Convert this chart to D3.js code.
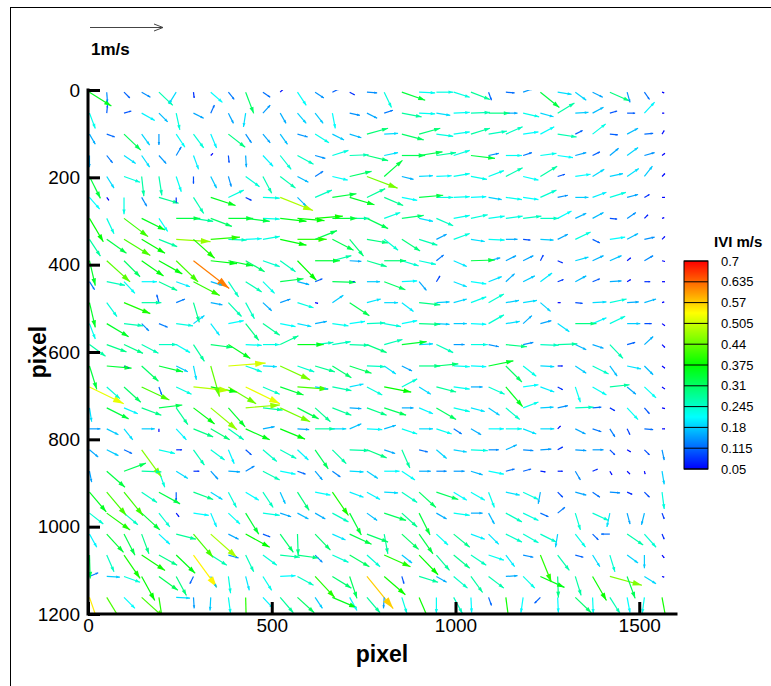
<!DOCTYPE html>
<html><head><meta charset="utf-8">
<script src="https://cdn.jsdelivr.net/npm/d3@7"></script>
<style>body{margin:0;background:#fff}svg{display:block}text{font-family:Arial,"Liberation Sans",sans-serif}</style>
</head><body><svg id="c" width="771" height="686"></svg>
<script>
// grid positions (image pixels)
const gridX = [4,51,98,146,193,240,287,334,382,429,476,523,570,618,665,712,759,806,854,901,948,995,1042,1090,1137,1184,1231,1278,1326,1373,1420,1467,1514,1562];
const gridY = [5,53,101,150,198,246,294,342,391,439,487,535,583,632,680,728,776,824,873,921,969,1017,1065,1114,1162];
// velocity components, m/s (v positive downward in image)
const U = [
[.30,.01,.08,.12,.19,-.10,.01,.16,.08,.11,.10,.04,.12,.12,.10,.07,.14,.10,.32,.22,.23,.22,.26,.04,.12,.14,.26,.19,.15,.14,.27,.04,.07,.03],
[.08,.01,.10,.18,.12,.05,.14,.05,.07,-.03,.10,.08,.12,.11,.04,.14,.14,.12,.27,.22,.19,.22,.26,.29,.16,.22,.18,.23,.18,.15,.10,.11,.14,.03],
[.08,.11,.23,.11,0,.12,.14,.08,.23,.08,.10,.10,.14,.19,.16,.16,.29,.19,.30,.29,.23,.22,.26,.25,.23,.21,.19,.26,.10,.18,.11,.15,.12,.03],
[0,.08,.16,.11,.10,.07,.07,.03,.01,.01,.14,.15,.22,.14,.22,.26,.29,.19,.32,.32,.27,.22,.33,.14,.22,.12,.22,.21,.15,.10,.12,.15,.14,.04],
[.15,.10,.22,.03,.04,.07,0,.08,.04,.19,.12,.21,.15,.11,.21,.30,.42,.25,.16,.19,.21,.22,.22,.21,.23,.21,.23,.10,.21,.16,.18,.16,.11,.04],
[.14,.03,0,.07,.27,0,.14,.34,.21,.08,.23,.45,.12,.23,.33,.34,.25,.26,.21,.33,.23,.22,.21,.18,.22,.21,.22,.14,.18,.19,.22,.15,.07,.04],
[.19,.10,.33,.32,.12,.33,.27,.29,.34,.33,.23,.36,.37,.38,.34,.27,.29,.22,.30,.19,.23,.22,.23,.22,.23,.25,.25,.19,.15,.15,.10,.12,.05,.03],
[.15,.27,.36,.32,.25,.47,.29,.40,.25,.22,.23,.36,.40,.30,.29,.19,.29,.19,.25,.25,.14,.22,.19,.22,.16,.10,.18,.14,.21,.10,.21,.15,.14,.04],
[.08,.32,.22,.30,.32,.30,.49,.36,.34,.26,.23,.21,.26,.34,.26,.16,.27,.30,.23,.23,.10,.18,.33,.16,.14,.14,.04,.07,.18,.15,.16,.05,.12,.04],
[.07,.25,.15,.21,.25,.19,.36,.16,.14,.22,.16,.32,.16,.10,.32,.07,.18,.29,.21,.10,.05,.18,.21,.18,.12,.16,.16,.08,.15,.10,.16,.05,.08,.04],
[.08,.14,.36,.27,-.03,.12,.08,.16,.18,.12,.12,.14,.22,.04,.15,.27,.19,.19,.16,.29,.18,.18,.21,.21,.18,.19,.14,.04,.10,.19,.23,.16,.16,.03],
[.08,.30,.26,.10,.12,.23,.15,.12,.21,.18,.23,.21,.19,.16,.22,.21,.25,.23,.21,.29,.18,.18,.21,.21,.19,.12,.15,.16,.29,.19,.21,.18,.10,.04],
[.22,.27,.26,.23,.25,.19,.15,.30,.30,.22,.23,.25,.36,.25,.25,.27,.27,.25,.34,.19,.23,.15,.23,.14,.29,.14,.25,.27,.15,.15,.18,.11,.12,.04],
[.10,.34,.07,.23,.33,.16,.04,.12,.51,.22,.19,.41,.23,.27,.26,.30,.25,.16,.14,.29,.30,.22,.21,.34,.22,.18,.19,.07,.15,.22,.10,.19,.12,.04],
[.47,.18,.23,.38,.04,.21,.49,.36,.38,.47,.23,.32,.42,.18,.26,.19,.21,.37,.21,.16,.27,.22,.16,.22,.23,.21,.19,.07,.07,.19,.27,.12,.16,.04],
[.03,.30,.19,.27,.32,.16,.29,.36,.23,.47,.27,.41,.29,.21,.26,.16,.27,.30,.16,.19,.27,.22,.19,.15,.19,.21,.18,.14,.25,.12,.07,.15,.07,.04],
[.15,.16,.12,.18,0,.14,.27,.26,.21,.33,.16,.34,.16,.27,.19,.16,.21,.16,.21,.19,.21,.11,.14,.21,.22,.18,.19,.04,.14,.12,.07,.04,.12,.04],
[.12,.16,.11,.27,.22,.08,.15,.19,.08,.08,.19,.22,.15,.18,.19,.27,.27,.15,.11,.12,.14,.18,.23,.14,.15,.14,.15,.07,.15,.15,.07,.05,.07,.03],
[.03,.25,.30,.27,.08,.16,.08,.10,.16,.12,.23,.21,.11,.10,.11,.19,.15,.21,.18,.16,.14,.15,.16,.21,.12,.11,.07,.07,.07,.07,.03,.04,.01,.03],
[.23,.27,.26,.21,.29,0,.27,.16,.11,.18,.14,.07,.16,.21,.22,.19,.18,.19,.21,.23,.30,.18,.19,.08,.19,.21,-.03,.07,.15,.10,.14,.07,.07,.03],
[.19,.32,.19,.25,.15,.04,.21,.08,.16,.18,.23,.15,.15,.14,.22,.16,.14,.30,.21,.15,.14,.22,.16,.08,.22,.21,.11,.10,.07,.22,-.04,.04,-.04,.03],
[.10,.23,.15,.10,.15,.27,.27,.36,.14,.33,.10,.18,.01,.21,.18,.30,.29,.05,.23,.19,.16,.22,.19,.14,.22,.21,.22,-.03,.14,.08,-.12,.22,.16,.03],
[.01,.10,.22,.32,.25,.26,.32,.22,.14,.11,.19,.27,.29,.10,.22,.27,.18,.36,.14,.26,.18,.22,.21,.21,.12,.14,.15,.16,.11,.10,.07,.15,0,.03],
[.12,.18,.22,.18,.26,.14,-.05,.08,.03,.05,.12,.21,.22,.27,.26,.10,.36,.29,.03,.26,.14,.19,.16,.21,.16,.16,.33,.01,.08,.19,.44,.11,.16,.03],
[.18,.22,.15,.31,.06,.19,.01,-.01,.03,.01,.14,.18,.23,.10,.33,.10,.18,-.01,.07,.15,0,.12,.01,.04,.05,-.03,-.08,.01,.22,.01,.14,.04,-.03,.07]
];
const V = [
[.19,.14,.08,.07,.18,.16,.08,.14,.10,.29,.07,-.04,.18,.08,-.05,.04,.01,.21,.11,.01,0,.07,.10,.11,.01,-.05,.21,.03,.11,.07,.12,.14,.10,.01],
[.21,-.11,-.03,.10,.12,.23,.07,-.11,.14,.19,-.11,.14,.14,.14,.21,.03,.07,-.04,.05,.01,.03,-.01,-.01,0,0,.05,.05,-.14,-.01,-.08,-.03,0,-.15,0],
[.14,.04,.22,.15,.15,.18,.19,.19,.18,.12,.12,.14,.04,.12,.08,.05,-.08,-.01,.08,-.08,.03,-.03,-.08,-.04,-.10,-.03,-.10,.04,-.05,-.14,.01,-.08,-.01,-.05],
[.16,.10,.11,.16,.11,-.12,.19,-.03,.10,.16,.15,.19,.12,.04,-.07,-.01,.07,-.04,0,-.05,-.04,-.07,.04,-.03,0,-.04,-.03,.03,-.04,-.05,-.10,-.11,-.04,-.03],
[.30,.16,.08,.27,.26,.21,.10,.16,.14,.14,.23,.16,.08,-.07,.05,-.07,.16,-.22,.04,-.01,-.01,-.04,.04,-.08,-.12,.05,-.14,-.03,-.03,-.10,-.04,-.11,-.14,-.04],
[.16,.04,.23,.12,.08,.08,.22,.11,-.10,.04,.01,.18,.12,-.10,-.05,.10,-.12,.11,.04,-.03,0,-.01,-.01,.03,.03,.03,-.10,-.03,0,-.07,-.07,-.04,-.04,0],
[.32,.21,.25,.16,.18,0,.04,.11,0,.04,.01,.04,.03,-.03,0,0,.14,-.08,-.04,.04,.10,-.04,-.05,-.03,-.03,-.03,0,-.10,-.07,-.08,.01,-.08,-.05,-.01],
[.23,.19,.22,.19,.10,.03,.26,-.03,.01,-.01,-.04,.08,0,-.12,.15,.23,.05,.15,.16,.08,-.07,-.08,.03,.01,0,.01,.01,-.07,-.10,.05,-.03,-.08,-.03,-.04],
[.34,.29,.22,.21,.18,.29,.38,.04,.07,.15,.08,.15,.27,0,-.07,.01,.08,0,.07,.05,-.08,.08,-.01,-.04,-.07,-.07,-.08,.03,-.05,-.07,-.07,-.04,-.07,.01],
[.11,.05,.16,0,.12,.07,.19,.05,.21,.14,.16,-.04,.04,-.04,.01,0,0,.11,-.01,.12,-.08,.07,.03,-.07,-.11,-.08,-.12,-.03,-.08,-.04,-.01,-.03,0,0],
[.34,.19,.15,0,-.11,-.05,.27,.03,.19,.22,.11,-.05,.07,.01,-.10,.18,-.05,0,.12,.03,-.01,-.05,-.08,-.12,-.03,-.03,.12,0,.01,-.01,-.05,-.01,-.05,-.01],
[.21,.18,.03,.10,.05,.03,-.11,.16,-.04,.23,.16,.04,.04,-.03,.03,-.03,-.01,.04,-.04,.01,.01,0,.01,-.12,-.03,-.11,-.04,.11,0,-.08,-.10,0,0,.03],
[.16,.10,.12,.12,0,.11,.23,.04,.19,.01,0,-.12,0,-.03,-.04,.01,.11,-.07,-.04,-.01,.11,0,0,.03,.03,-.03,.01,-.01,.07,.05,.19,-.03,-.11,.04],
[.32,.03,.03,.21,.08,.08,.19,.42,-.04,.08,.01,.19,.08,.08,.16,.10,.01,.11,.07,0,-.03,.01,.01,-.07,.22,.14,.01,0,.10,.11,.14,.04,.12,.03],
[.23,.16,.21,.18,.11,.10,.05,.07,.23,.23,.10,.11,.03,.03,.05,-.04,.11,.07,-.11,.10,.07,.03,0,.10,.27,-.03,.07,.04,.21,.11,-.03,.10,.15,.03],
[.19,.15,.08,.10,-.04,.23,.22,.30,.26,-.04,.03,.19,.15,.19,.10,.01,.10,.10,0,.08,.16,.05,.05,.10,.16,-.08,-.01,-.03,-.01,-.01,.04,.16,.08,.01],
[0,.08,.15,0,.04,.15,.11,.15,.15,.15,-.03,.14,.01,0,0,-.07,.01,-.05,.07,0,.07,.07,.08,0,0,.07,0,-.04,.07,.04,.11,.08,.01,0],
[.10,.08,.05,.37,.05,0,.21,.14,.19,.07,.16,.12,.14,.26,.19,.01,.11,.05,.25,.03,.12,.03,.01,0,-.07,.01,-.01,-.04,.01,0,.07,.03,.07,.14],
[.15,.22,-.11,.01,.22,.10,0,.11,.01,-.07,.12,.04,.04,.12,.08,.01,.10,0,.12,0,0,0,.05,.04,-.03,-.03,.01,0,.12,-.03,.05,.04,.04,.18],
[.27,.32,.32,.14,.16,.11,.10,.10,.21,.11,.21,.16,.25,.04,.32,.07,.10,.01,.14,.21,.10,.11,.11,.21,.04,.10,.16,.07,.04,.07,.01,.03,.07,.23],
[.15,.23,.16,.23,.19,.05,.03,.19,.15,.29,.03,.05,.08,.08,.12,.30,.10,.10,.19,.30,.08,.03,0,.15,.12,.10,.05,-.08,.23,.10,.19,.15,.16,.08],
[.18,.25,.29,.27,.14,.07,.32,.32,.07,.18,.04,.25,.29,.22,.08,.14,.11,.27,.21,.27,.15,.18,.07,.14,.11,.12,.11,.18,.18,.08,0,.15,.18,.07],
[.32,.23,.32,.21,.14,.25,.44,.14,.04,.23,.14,.03,.04,.10,.10,.16,.16,.16,.11,.27,.21,.18,.14,.07,.16,.03,.37,.21,.03,.16,.23,.11,.18,.04],
[-.05,.01,.08,.33,.19,.26,.10,.15,.23,.19,.19,-.01,.12,.29,.16,.30,.44,.25,.10,.08,.08,.16,.22,.16,-.01,.16,.15,.29,.26,.33,.12,.30,.10,.01],
[.52,.36,.15,.28,.39,.01,.15,.18,.22,.40,.15,.21,.21,.15,.14,.18,.21,.15,.22,.35,.22,.22,.21,.11,.38,.21,.08,.21,.21,.22,.22,.21,.22,.38]
];
const xMajor = [0,500,1000,1500];
const xMinor = [0,100,200,300,400,500,600,700,800,900,1000,1100,1200,1300,1400,1500,1600];
const yMajor = [0,200,400,600,800,1000,1200];
const yMinor = [0,50,100,150,200,250,300,350,400,450,500,550,600,650,700,750,800,850,900,950,1000,1050,1100,1150,1200];
const legendLevels = [0.7,0.635,0.57,0.505,0.44,0.375,0.31,0.245,0.18,0.115,0.05];
const legendLabels = ["0.7","0.635","0.57","0.505","0.44","0.375","0.31","0.245","0.18","0.115","0.05"];
const refSpeed = 1;

const svg = d3.select('#c');
const x = d3.scaleLinear().domain([0,1600]).range([88,676]);
const y = d3.scaleLinear().domain([0,1200]).range([90,614]);
const len = d3.scaleLinear().domain([0,1]).range([0,73]);
const color = d3.scaleLinear().domain([0.05,0.2125,0.375,0.5375,0.7])
  .range(["#0000ff","#00ffff","#00ff00","#ffff00","#ff0000"]).clamp(true);

svg.append('rect').attr('x',10.5).attr('y',7.5).attr('width',900).attr('height',900)
  .attr('fill','none').attr('stroke','#000').attr('stroke-width',1);

svg.append('defs').append('clipPath').attr('id','plot').append('rect')
  .attr('x',88).attr('y',90).attr('width',588).attr('height',524);

const vectors = [];
gridY.forEach((gy,j)=>gridX.forEach((gx,i)=>vectors.push({gx,gy,u:U[j][i],v:V[j][i]})));
vectors.forEach(d=>{
  d.x0=x(d.gx); d.y0=y(d.gy);
  d.dx=len(d.u); d.dy=len(d.v);
  d.L=Math.hypot(d.dx,d.dy);
  d.c=color(Math.hypot(d.u,d.v));
});
const vv = vectors.filter(d=>d.L>0.5);
const g = svg.append('g').attr('clip-path','url(#plot)');
g.selectAll('line.v').data(vv).join('line').attr('class','v')
  .attr('x1',d=>d.x0).attr('y1',d=>d.y0)
  .attr('x2',d=>d.x0+d.dx).attr('y2',d=>d.y0+d.dy)
  .attr('stroke',d=>d.c).attr('stroke-width',1.2);
g.selectAll('path.h').data(vv).join('path').attr('class','h')
  .attr('fill',d=>d.c)
  .attr('d',d=>{
    const ux=d.dx/d.L, uy=d.dy/d.L;
    const hl=0.28*d.L, hw=0.075*d.L+0.4;
    const x1=d.x0+d.dx, y1=d.y0+d.dy;
    const bx=x1-ux*hl, by=y1-uy*hl;
    return `M${x1},${y1}L${bx-uy*hw},${by+ux*hw}L${bx+uy*hw},${by-ux*hw}Z`;
  });

// axes
const fs = 19;
const fmt = d3.format('d');
const xa = svg.append('g').attr('transform','translate(0,614)');
xa.call(d3.axisBottom(x).tickValues(xMinor).tickSize(-6).tickFormat(''));
xa.call(d3.axisBottom(x).tickValues(xMajor).tickSizeInner(-12).tickSizeOuter(0).tickPadding(5).tickFormat(fmt));
const ya = svg.append('g').attr('transform','translate(88,0)');
ya.call(d3.axisLeft(y).tickValues(yMinor).tickSize(-6).tickFormat(''));
ya.call(d3.axisLeft(y).tickValues(yMajor).tickSizeInner(-12).tickSizeOuter(0).tickPadding(8).tickFormat(fmt));
svg.selectAll('.domain').remove();
xa.selectAll('.tick line').attr('stroke','#000').attr('stroke-width',1.3);
ya.selectAll('.tick line').attr('stroke','#000').attr('stroke-width',1.3);
xa.selectAll('.tick').filter(d=>xMajor.includes(d)).select('line').attr('stroke-width',3);
ya.selectAll('.tick').filter(d=>yMajor.includes(d)).select('line').attr('stroke-width',3);
svg.selectAll('.tick text').attr('font-size',fs).attr('font-family','Arial, Liberation Sans, sans-serif').attr('fill','#000');
svg.append('path').attr('d','M88,90V614H676').attr('fill','none').attr('stroke','#000').attr('stroke-width',3).attr('stroke-linecap','square');

svg.append('text').attr('x',382).attr('y',662).attr('text-anchor','middle')
  .attr('font-size',23).attr('font-weight','bold').text('pixel');
svg.append('text').attr('transform','translate(46,352) rotate(-90)').attr('text-anchor','middle')
  .attr('font-size',23).attr('font-weight','bold').text('pixel');

// reference vector
const rx=90, ry=27.5, rl=len(refSpeed);
svg.append('line').attr('x1',rx).attr('y1',ry).attr('x2',rx+rl).attr('y2',ry).attr('stroke','#444').attr('stroke-width',1);
svg.append('path').attr('d',`M${rx+rl-9},${ry-3.5}L${rx+rl},${ry}L${rx+rl-9},${ry+3.5}`).attr('fill','none').attr('stroke','#444').attr('stroke-width',1);
svg.append('text').attr('x',91).attr('y',55).attr('font-size',17).attr('font-weight','bold').text('1m/s');

// legend
const ly = d3.scaleLinear().domain([0.7,0.05]).range([261,469]);
const lx=684, lw=24;
const lg = svg.append('g');
const steps = d3.range(0,208);
lg.selectAll('rect.s').data(steps).join('rect').attr('class','s')
  .attr('x',lx).attr('width',lw).attr('y',s=>261+s).attr('height',1.2)
  .attr('fill',s=>color(ly.invert(261+s+0.5)));
lg.selectAll('line.b').data(legendLevels).join('line').attr('class','b')
  .attr('x1',lx).attr('x2',lx+lw).attr('y1',d=>ly(d)).attr('y2',d=>ly(d))
  .attr('stroke','#000').attr('stroke-width',1);
lg.append('rect').attr('x',lx).attr('y',261).attr('width',lw).attr('height',208)
  .attr('fill','none').attr('stroke','#000').attr('stroke-width',1);
lg.selectAll('text.l').data(legendLevels).join('text').attr('class','l')
  .attr('x',721).attr('y',d=>ly(d)).attr('dy','0.35em').attr('font-size',13)
  .text((d,i)=>legendLabels[i]);
lg.append('text').attr('x',714).attr('y',247).attr('font-size',15).attr('font-weight','bold').text('IVI m/s');
</script>
</body></html>
